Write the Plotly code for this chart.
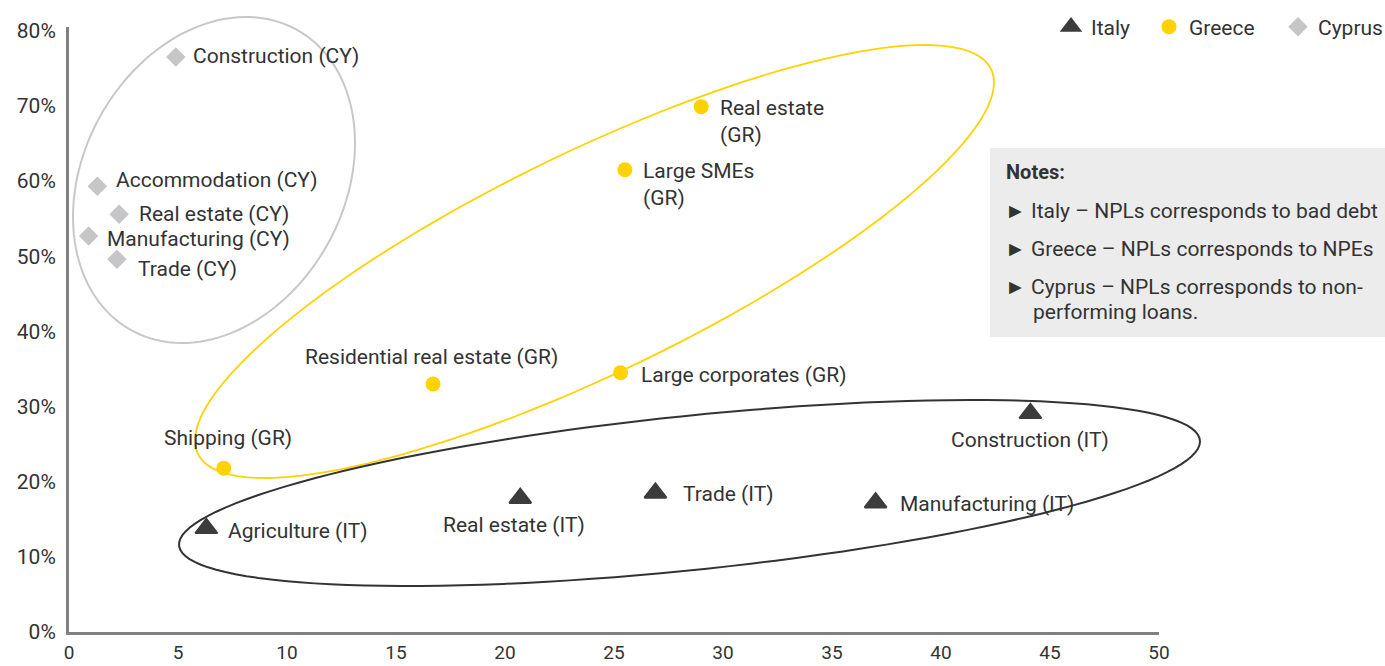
import numpy as np
import plotly.graph_objects as go

# ---------------- data ----------------
italy_labels = ["Agriculture (IT)", "Real estate (IT)", "Trade (IT)", "Manufacturing (IT)", "Construction (IT)"]
italy_x = [6.3, 20.7, 26.9, 37.0, 44.1]
italy_y = [13.8, 17.8, 18.5, 17.2, 29.1]

greece_labels = ["Real estate<br>(GR)", "Large SMEs<br>(GR)", "Residential real estate (GR)", "Large corporates (GR)", "Shipping (GR)"]
greece_x = [29.0, 25.5, 16.7, 25.3, 7.1]
greece_y = [69.9, 61.5, 33.0, 34.5, 21.8]

cyprus_labels = ["Construction (CY)", "Accommodation (CY)", "Real estate (CY)", "Manufacturing (CY)", "Trade (CY)"]
cyprus_x = [4.9, 1.3, 2.3, 0.9, 2.2]
cyprus_y = [76.5, 59.3, 55.6, 52.7, 49.6]

x_ticks = [0, 5, 10, 15, 20, 25, 30, 35, 40, 45, 50]
y_ticks = [0, 10, 20, 30, 40, 50, 60, 70, 80]
y_tick_text = ["0%", "10%", "20%", "30%", "40%", "50%", "60%", "70%", "80%"]

notes_title = "Notes:"
notes_lines = [
    "► Italy – NPLs corresponds to bad debt",
    "► Greece – NPLs corresponds to NPEs",
    "► Cyprus – NPLs corresponds to non-",
    "performing loans.",
]

# ---------------- styles ----------------
FONT = "Roboto"
TXT = "#333333"
C_IT = "#3c3c3c"
C_GR = "#ffd200"
C_CY = "#c6c6c8"
FS = 21

W, H = 1385, 666
L, R_EDGE, T, B_EDGE = 69, 1159, 27, 632
PW, PH = R_EDGE - L, B_EDGE - T


def px(x):
    return (x - L) / PW


def py(y):
    return (B_EDGE - y) / PH


def ellipse_path(cx, cy, hw, hh, dy, n=140):
    s = np.sqrt(hh ** 2 - dy ** 2)
    t = np.linspace(0, 2 * np.pi, n)
    xs = cx + hw * np.cos(t)
    ys = cy + dy * np.cos(t) + s * np.sin(t)
    pts = [f"{px(a):.5f},{py(b):.5f}" for a, b in zip(xs, ys)]
    return "M " + " L ".join(pts) + " Z"


fig = go.Figure()
fig.add_trace(go.Scatter(x=italy_x, y=italy_y, mode="markers", name="Italy", legend="legend",
                         marker=dict(symbol="triangle-up", size=19, color=C_IT,
                                     line=dict(color=C_IT, width=2))))
fig.add_trace(go.Scatter(x=greece_x, y=greece_y, mode="markers", name="Greece", legend="legend2",
                         marker=dict(symbol="circle", size=15, color=C_GR)))
fig.add_trace(go.Scatter(x=cyprus_x, y=cyprus_y, mode="markers", name="Cyprus", legend="legend3",
                         marker=dict(symbol="diamond", size=15, color=C_CY)))

# label placement (xanchor, yanchor, xshift, yshift)
it_pos = [("left", "middle", 20, -3), ("center", "middle", -6, -27), ("left", "middle", 26, -1),
          ("left", "middle", 22, -1), ("center", "middle", 0, -27)]
gr_pos = [("left", "top", 17, 13), ("left", "top", 16, 13), ("center", "middle", -2, 27),
          ("left", "middle", 18, -2), ("center", "middle", 4, 30)]
cy_pos = [("left", "middle", 15, 1), ("left", "middle", 17, 6), ("left", "middle", 18, 0),
          ("left", "middle", 16, -3), ("left", "middle", 19, -10)]

annotations = []
for labels, xs, ys, pos in [(italy_labels, italy_x, italy_y, it_pos),
                            (greece_labels, greece_x, greece_y, gr_pos),
                            (cyprus_labels, cyprus_x, cyprus_y, cy_pos)]:
    for lab, xv, yv, (xa, ya, xsh, ysh) in zip(labels, xs, ys, pos):
        annotations.append(dict(x=xv, y=yv, xref="x", yref="y", text=lab, showarrow=False,
                                xanchor=xa, yanchor=ya, xshift=xsh, yshift=ysh, align="left",
                                font=dict(family=FONT, size=FS, color=TXT)))

# notes
annotations.append(dict(x=px(1004), y=py(172), xref="paper", yref="paper", text="<b>" + notes_title + "</b>",
                        showarrow=False, xanchor="left", yanchor="middle",
                        font=dict(family=FONT, size=FS - 1, color=TXT)))
for txt, xx, yy in zip(notes_lines, [1003, 1003, 1003, 1031], [211, 249, 287, 312]):
    annotations.append(dict(x=px(xx), y=py(yy), xref="paper", yref="paper", text=txt,
                            showarrow=False, xanchor="left", yanchor="middle",
                            font=dict(family=FONT, size=FS, color=TXT)))

shapes = [
    dict(type="rect", xref="paper", yref="paper", x0=px(990), x1=px(1390), y0=py(337), y1=py(148),
         fillcolor="#ececec", line=dict(width=0), layer="below"),
    dict(type="path", xref="paper", yref="paper", path=ellipse_path(214, 180, 141, 163, -37),
         line=dict(color="#c8c8c8", width=2), layer="below"),
    dict(type="path", xref="paper", yref="paper", path=ellipse_path(594.5, 261.5, 399.5, 216.5, -179),
         line=dict(color=C_GR, width=1.8), layer="below"),
    dict(type="path", xref="paper", yref="paper", path=ellipse_path(689.5, 493, 510.5, 93, -51.5),
         line=dict(color="#333333", width=2), layer="below"),
]

leg_common = dict(orientation="h", xanchor="left", yanchor="middle", y=py(27),
                  font=dict(family=FONT, size=FS, color=TXT), bgcolor="rgba(0,0,0,0)")

fig.update_layout(
    width=W, height=H,
    margin=dict(l=L, r=W - R_EDGE, t=T, b=H - B_EDGE, autoexpand=False),
    paper_bgcolor="white", plot_bgcolor="rgba(0,0,0,0)",
    font=dict(family=FONT, size=FS, color=TXT),
    showlegend=True,
    legend=dict(x=px(1051), **leg_common),
    legend2=dict(x=px(1149), **leg_common),
    legend3=dict(x=px(1278), **leg_common),
    annotations=annotations,
    shapes=shapes,
)
fig.update_xaxes(range=[0, 50], tickvals=x_ticks, showgrid=False, zeroline=False, automargin=False,
                 showline=True, linecolor="#808080", linewidth=3, ticks="",
                 ticklabelstandoff=1, tickfont=dict(family=FONT, size=19, color=TXT))
fig.update_yaxes(range=[0, 80.5], tickvals=y_ticks, ticktext=y_tick_text, showgrid=False, zeroline=False,
                 automargin=False, showline=True, linecolor="#808080", linewidth=3, ticks="",
                 ticklabelstandoff=6, tickfont=dict(family=FONT, size=FS, color=TXT))

fig.write_html("out.html", config={"displayModeBar": False})

with open("out.html", "r", encoding="utf-8") as f:
    html = f.read()
html = html.replace("<head>", "<head><style>html,body{margin:0;padding:0;overflow:hidden;}</style>", 1)
with open("out.html", "w", encoding="utf-8") as f:
    f.write(html)
